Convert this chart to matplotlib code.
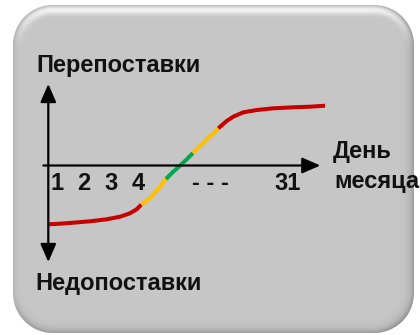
import numpy as np
import matplotlib
matplotlib.use('Agg')
import matplotlib.pyplot as plt

plt.rcParams['font.family'] = ['Liberation Sans', 'DejaVu Sans']

# S-curve of deviation vs. day of month (schematic units)
day_pos = [0.00, 0.42, 0.91, 1.51, 2.11, 2.59, 2.95, 3.19, 3.36, 3.67, 3.96, 4.25, 4.50,
           4.76, 5.01, 5.22, 5.66, 6.14, 6.44, 6.68, 7.04, 7.52, 8.12, 8.84, 9.45, 9.99]
deviation = [-0.972, -0.962, -0.945, -0.922, -0.889, -0.846, -0.790, -0.724, -0.645, -0.542,
             -0.388, -0.223, -0.107, 0.0, 0.107, 0.207, 0.405, 0.615, 0.736, 0.807, 0.879,
             0.917, 0.945, 0.962, 0.972, 0.988]

tick_pos = [0.31, 1.29, 2.26, 3.24, 5.84, 8.65]
tick_labels = ['1', '2', '3', '4', '- - -', '31']

label_over = 'Перепоставки'
label_under = 'Недопоставки'
label_x = ['День', 'месяца']

RED, YELLOW, GREEN = '#c80000', '#ffc000', '#00a650'

W, H = 420, 335
fig = plt.figure(figsize=(W / 100, H / 100), dpi=100)

# rounded gray panel with a light top rim and darker bottom/right rim
bg = fig.add_axes([0, 0, 1, 1])
bg.set_xlim(0, W)
bg.set_ylim(H, 0)
bg.axis('off')
yy, xx = np.mgrid[0:H, 0:W] + 0.5
x0, x1, y0, y1, r = 13, 414, 5, 333, 40
cx, cy, hw, hh = (x0 + x1) / 2, (y0 + y1) / 2, (x1 - x0) / 2, (y1 - y0) / 2
qx = np.abs(xx - cx) - hw + r
qy = np.abs(yy - cy) - hh + r
sd = np.hypot(np.maximum(qx, 0), np.maximum(qy, 0)) + np.minimum(np.maximum(qx, qy), 0) - r
gy, gx = np.gradient(sd)
depth = -sd
val = np.full(sd.shape, 0.78)
val += 0.17 * np.clip(-gy, 0, 1) * np.exp(-((depth - 5) / 4) ** 2)
val -= 0.10 * np.clip(-gy, 0, 1) * np.exp(-depth / 1.5)
val -= 0.18 * np.clip(gy, 0, 1) * np.exp(-depth / 4)
val -= 0.18 * np.clip(gx, 0, 1) * np.exp(-depth / 4)
val -= 0.08 * np.clip(-gx, 0, 1) * np.exp(-depth / 3)
val = np.clip(val, 0, 1)
img = np.dstack([val, val, val, np.clip(0.5 - sd, 0, 1)])
bg.imshow(img, extent=(0, W, H, 0), interpolation='bilinear')

# chart in data units: origin at pixel (48.3, 165.5)
sx, sy, ox, oy = 27.7, 60.5, 48.3, 165.5
ax = fig.add_axes([0, 0, 1, 1], facecolor='none')
ax.set_xlim(-ox / sx, (W - ox) / sx)
ax.set_ylim((oy - H) / sy, oy / sy)
for s in ['top', 'right', 'left']:
    ax.spines[s].set_visible(False)
ax.spines['bottom'].set_position(('data', 0))
ax.spines['bottom'].set_visible(False)
ax.set_yticks([])
ax.set_xticks(tick_pos, tick_labels)
ax.tick_params(axis='x', length=0, pad=5, labelsize=17, labelcolor='#111111')
for t in ax.get_xticklabels():
    t.set_fontweight('bold')

# axis arrows
arrow = dict(arrowstyle='-|>,head_length=0.55,head_width=0.24', lw=1.6, color='black',
             shrinkA=0, shrinkB=0, mutation_scale=20)
ax.annotate('', xy=(9.82, 0), xytext=(-0.18, 0), arrowprops=arrow)
arrow2 = dict(arrow, arrowstyle='<|-|>,head_length=0.55,head_width=0.24')
ax.annotate('', xy=(0, 1.347), xytext=(0, -1.595), arrowprops=arrow2)

# curve coloured by zone
dev = np.array(deviation)
mid = np.abs((dev[:-1] + dev[1:]) / 2)
seg_col = np.where(mid < 0.215, GREEN, np.where(mid < 0.63, YELLOW, RED))
start = 0
for i in range(1, len(seg_col) + 1):
    if i == len(seg_col) or seg_col[i] != seg_col[start]:
        ax.plot(day_pos[start:i + 1], deviation[start:i + 1], color=seg_col[start],
                lw=2.9, solid_capstyle='butt', solid_joinstyle='round')
        start = i

txt = dict(fontsize=17, fontweight='bold', color='#111111', va='baseline', ha='left')
ax.text(-0.44, 1.545, label_over, **txt)
ax.text(-0.48, -2.058, label_under, **txt)
ax.text(10.28, 0.124, label_x[0], **txt)
ax.text(10.31, -0.372, label_x[1], **txt)

fig.savefig('out.png', dpi=100)
